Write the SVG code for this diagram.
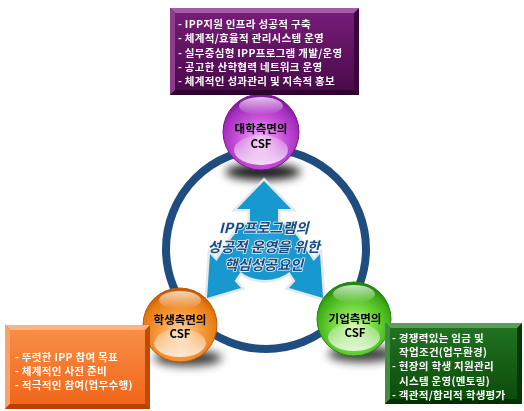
<svg xmlns="http://www.w3.org/2000/svg" width="524" height="411" viewBox="0 0 524 411">
<defs>
<style>
.bt{font-family:"Noto Sans CJK KR","Noto Sans",sans-serif;font-weight:bold;font-size:10.5px;letter-spacing:0.3px;fill:#ffffff}
.ct{font-family:"Noto Sans CJK KR","Noto Sans",sans-serif;font-weight:bold;font-size:11.5px;fill:#000000;text-anchor:middle}
.tt{font-family:"Noto Sans CJK KR","Noto Sans",sans-serif;font-weight:bold;font-style:italic;font-size:14px;letter-spacing:0.3px;fill:#174a7e;text-anchor:middle;stroke:#e8f2fa;stroke-width:1.6px;paint-order:stroke;stroke-linejoin:round}
</style>
<filter id="blur" x="-50%" y="-100%" width="200%" height="300%"><feGaussianBlur stdDeviation="5"/></filter>
<radialGradient id="gP" cx="0.5" cy="0.62" r="0.6"><stop offset="0" stop-color="#f3c0f7"/><stop offset="0.5" stop-color="#c855da"/><stop offset="0.85" stop-color="#a52cbe"/><stop offset="1" stop-color="#7c1496"/></radialGradient>
<radialGradient id="gO" cx="0.5" cy="0.62" r="0.6"><stop offset="0" stop-color="#ffd9b0"/><stop offset="0.5" stop-color="#f59a3c"/><stop offset="0.85" stop-color="#e67a12"/><stop offset="1" stop-color="#c25a04"/></radialGradient>
<radialGradient id="gG" cx="0.5" cy="0.62" r="0.6"><stop offset="0" stop-color="#d0f7a8"/><stop offset="0.5" stop-color="#6fd63c"/><stop offset="0.85" stop-color="#3fae18"/><stop offset="1" stop-color="#1f8608"/></radialGradient>
<linearGradient id="refl" x1="0" y1="0" x2="0" y2="1"><stop offset="0" stop-color="#fff" stop-opacity="0.15"/><stop offset="1" stop-color="#fff" stop-opacity="0.8"/></linearGradient>
<linearGradient id="hi" x1="0" y1="0" x2="0" y2="1"><stop offset="0" stop-color="#fff" stop-opacity="0.75"/><stop offset="1" stop-color="#fff" stop-opacity="0"/></linearGradient>
<linearGradient id="bP" x1="0" y1="0" x2="0" y2="1"><stop offset="0" stop-color="#761c77"/><stop offset="1" stop-color="#4a0a4b"/></linearGradient>
<linearGradient id="bO" x1="0" y1="0" x2="0" y2="1"><stop offset="0" stop-color="#f98d45"/><stop offset="1" stop-color="#f0661a"/></linearGradient>
<linearGradient id="bG" x1="0" y1="0" x2="0" y2="1"><stop offset="0" stop-color="#217221"/><stop offset="1" stop-color="#0c4c0c"/></linearGradient>
<radialGradient id="aC" cx="0.5" cy="0.5" r="0.5"><stop offset="0" stop-color="#3aaedc"/><stop offset="1" stop-color="#1798cf"/></radialGradient>
</defs>

<g id="ring"><circle cx="266" cy="249" r="100" fill="none" stroke="#1f4d80" stroke-width="8"/></g>

<g id="shadows" filter="url(#blur)" fill="#000">
<ellipse cx="263" cy="172" rx="38" ry="8" opacity="0.9"/>
<ellipse cx="188" cy="358" rx="34" ry="8" opacity="0.75"/>
<ellipse cx="362" cy="354" rx="34" ry="8" opacity="0.75"/>
</g>

<g id="center-arrows">
<g fill="#eef2f5" stroke="#e2e8ec" stroke-width="5" stroke-linejoin="miter">
<polygon points="264,181 291,209 278,209 278,240 250,240 250,209 237,209"/>
<polygon points="207,298 241,288 234.6,281 251.3,256 233,236 216.4,261 210,254"/>
<polygon points="323,298 289,288 295.4,281 278.7,256 297,236 313.6,261 320,254"/>
<ellipse cx="265" cy="250" rx="36" ry="30"/>
</g>
<g fill="#1798cf">
<polygon points="264,181 291,209 278,209 278,240 250,240 250,209 237,209"/>
<polygon points="207,298 241,288 234.6,281 251.3,256 233,236 216.4,261 210,254"/>
<polygon points="323,298 289,288 295.4,281 278.7,256 297,236 313.6,261 320,254"/>
<ellipse cx="265" cy="250" rx="36" ry="30"/>
</g>
<ellipse cx="264" cy="248" rx="30" ry="24" fill="url(#aC)" opacity="0.7"/>
</g>

<g id="title">
<text class="tt" x="264" y="233">IPP프로그램의</text>
<text class="tt" x="264" y="251.5">성공적 운영을 위한</text>
<text class="tt" x="264" y="270">핵심성공요인</text>
</g>

<g id="node-university">
<circle cx="261" cy="132" r="38" fill="url(#gP)" stroke="#7a1494" stroke-width="1"/>
<ellipse cx="261" cy="150" rx="27" ry="15" fill="url(#refl)"/>
<ellipse cx="261" cy="106" rx="22" ry="9" fill="url(#hi)"/>
<text class="ct" x="261" y="132.5">대학측면의</text>
<text class="ct" x="261" y="147.5">CSF</text>
</g>

<g id="node-student">
<circle cx="180" cy="325" r="37" fill="url(#gO)" stroke="#c05a04" stroke-width="1"/>
<ellipse cx="180" cy="343" rx="26" ry="14" fill="url(#refl)"/>
<ellipse cx="180" cy="300" rx="21" ry="9" fill="url(#hi)"/>
<text class="ct" x="180" y="323.5">학생측면의</text>
<text class="ct" x="180" y="338">CSF</text>
</g>

<g id="node-company">
<circle cx="354" cy="319" r="37" fill="url(#gG)" stroke="#1f8608" stroke-width="1"/>
<ellipse cx="354" cy="337" rx="26" ry="14" fill="url(#refl)"/>
<ellipse cx="354" cy="294" rx="21" ry="9" fill="url(#hi)"/>
<text class="ct" x="355" y="322.5">기업측면의</text>
<text class="ct" x="355" y="337">CSF</text>
</g>

<g id="box-university">
<rect x="170" y="8" width="189" height="87" fill="#3a053b"/>
<polygon points="170,8 359,8 354,13 175,13" fill="#a45aa5"/>
<polygon points="170,8 175,13 175,90 170,95" fill="#8c3e8d"/>
<polygon points="170,95 175,90 354,90 359,95" fill="#2e032f"/>
<rect x="175" y="13" width="179" height="77" fill="url(#bP)"/>
<text class="bt" x="178" y="28">- IPP지원 인프라 성공적 구축</text>
<text class="bt" x="178" y="42.3">- 체계적/효율적 관리시스템 운영</text>
<text class="bt" x="178" y="56.5">- 실무중심형 IPP프로그램 개발/운영</text>
<text class="bt" x="178" y="70.8">- 공고한 산학협력 네트워크 운영</text>
<text class="bt" x="178" y="85">- 체계적인 성과관리 및 지속적 홍보</text>
</g>

<g id="box-student">
<rect x="5" y="325" width="145" height="84" fill="#c24a08"/>
<polygon points="5,325 150,325 145,330 10,330" fill="#fbb585"/>
<polygon points="5,325 10,330 10,404 5,409" fill="#f9a26c"/>
<polygon points="5,409 10,404 145,404 150,409" fill="#b84000"/>
<rect x="10" y="330" width="135" height="74" fill="url(#bO)"/>
<text class="bt" x="15" y="361">- 뚜렷한 IPP 참여 목표</text>
<text class="bt" x="15" y="375">- 체계적인 사전 준비</text>
<text class="bt" x="15" y="389">- 적극적인 참여(업무수행)</text>
</g>

<g id="box-company">
<rect x="385" y="323" width="137" height="81" fill="#063806"/>
<polygon points="385,323 522,323 517,328 390,328" fill="#5d9d5d"/>
<polygon points="385,323 390,328 390,399 385,404" fill="#418c41"/>
<polygon points="385,404 390,399 517,399 522,404" fill="#053005"/>
<rect x="390" y="328" width="127" height="71" fill="url(#bG)"/>
<text class="bt" x="392" y="342">- 경쟁력있는 임금 및</text>
<text class="bt" x="399" y="356.2">작업조건(업무환경)</text>
<text class="bt" x="392" y="370.4">- 현장의 학생 지원관리</text>
<text class="bt" x="399" y="384.6">시스템 운영(멘토링)</text>
<text class="bt" x="392" y="398.8">- 객관적/합리적 학생평가</text>
</g>
</svg>
